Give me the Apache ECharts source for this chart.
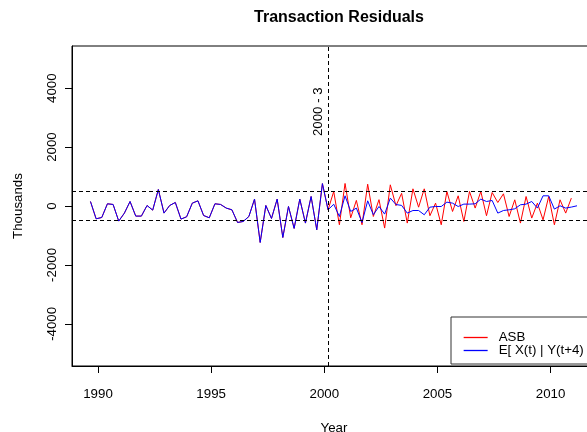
<!DOCTYPE html>
<html><head><meta charset="utf-8">
<script src="https://cdn.jsdelivr.net/npm/echarts@6/dist/echarts.min.js"></script>
<style>html,body{margin:0;padding:0;background:#fff}#c{width:587px;height:432px}</style>
</head><body><div id="c"></div>
<script>
// Quarterly observations starting Sep 1989 (monthly index 1989-9), step 3 months
const startYear = 1989, startMonth = 9;
const seriesNames = ['ASB', 'E[ X(t) | Y(t+4) ]'];
const seriesColors = ['#ff0000', '#0000ff'];
// ASB (actual residuals)
const asb = [153,-434,-390,75,52,-512,-241,153,-343,-343,17,-140,560,-241,17,119,-444,-366,97,176,
  -322,-400,75,52,-71,-129,-559,-525,-356,234,-1237,17,-424,234,-1068,-17,-760,234,-580,322,
  -807,760,-129,492,-637,765,-400,190,-637,740,-356,215,-749,719,10,430,-580,583,-40,583,
  -330,97,-637,492,-186,346,-525,492,-71,492,-330,458,119,414,-356,210,-580,322,-410,97,
  -468,322,-637,210,-241,268];
// Conditional expectation E[X(t) | Y(t+4)]
const cond = [153,-434,-390,75,52,-512,-241,153,-343,-343,17,-140,560,-241,17,119,-444,-366,97,176,
  -322,-400,75,52,-71,-129,-559,-525,-356,234,-1237,17,-424,234,-1068,-17,-760,234,-580,322,
  -807,760,-129,60,-356,346,-186,-71,-559,176,-298,-17,-275,268,50,20,-241,-153,-153,-298,
  -39,-17,-17,131,97,-17,64,64,75,234,153,187,-241,-153,-129,-95,41,64,153,-71,
  346,346,-105,7,-71,-37,7];
const bands = [500, -500];
const breakMonth = {year: 2000, month: 3, label: '2000 - 3', labelValue: 3200};
const xTicks = [1990, 1995, 2000, 2005, 2010];
const yTicks = [-4000, -2000, 0, 2000, 4000];

const t = i => startYear + (startMonth - 1) / 12 + 0.25 * i;
const breakX = breakMonth.year + (breakMonth.month - 1) / 12;
const FONT = "'Liberation Sans', Arial, Helvetica, sans-serif";

const chart = echarts.init(document.getElementById('c'), null, {renderer: 'canvas'});
chart.setOption({
  animation: false,
  backgroundColor: '#fff',
  textStyle: {fontFamily: FONT},
  title: {
    text: 'Transaction Residuals', left: 334, top: 5, textAlign: 'center',
    textStyle: {fontFamily: FONT, fontWeight: 'bold', fontSize: 16, color: '#000'}
  },
  grid: {left: 72, right: -9, top: 46, bottom: 66, show: true, borderColor: '#000', borderWidth: 1,
    outerBoundsMode: 'none', containLabel: false},
  legend: {
    orient: 'vertical', left: 451, top: 317, padding: [14, 80, 7, 12],
    itemWidth: 24, itemHeight: 14, itemGap: 0,
    borderColor: '#333', borderWidth: 1, backgroundColor: '#fff',
    itemStyle: {opacity: 0},
    textStyle: {fontFamily: FONT, fontSize: 13.3, color: '#000', padding: [0, 0, 0, 6]},
    data: seriesNames.map((n, i) => ({name: n,
      itemStyle: {opacity: 0},
      lineStyle: {color: seriesColors[i], width: 1.3, opacity: 1, type: 'solid'}}))
  },
  xAxis: {
    type: 'value', min: 1988.851, max: 2012.006,
    name: 'Year', nameLocation: 'middle', nameGap: 56,
    nameTextStyle: {fontFamily: FONT, fontSize: 13.3, color: '#000'},
    axisLine: {show: true, onZero: false, lineStyle: {color: '#000', width: 1}},
    axisTick: {show: true, length: 7, lineStyle: {color: '#000'}, customValues: xTicks},
    axisLabel: {color: '#000', fontSize: 13.3, fontFamily: FONT, margin: 22, customValues: xTicks, formatter: v => String(v)},
    splitLine: {show: false}
  },
  yAxis: {
    type: 'value', min: -5430, max: 5430,
    name: 'Thousands', nameLocation: 'middle', nameGap: 47, nameRotate: 90,
    nameTextStyle: {fontFamily: FONT, fontSize: 13.3, color: '#000'},
    axisLine: {show: true, onZero: false, lineStyle: {color: '#000', width: 1}},
    axisTick: {show: true, length: 7, lineStyle: {color: '#000'}, customValues: yTicks},
    axisLabel: {color: '#000', fontSize: 13.3, fontFamily: FONT, rotate: 90, margin: 13, customValues: yTicks, formatter: v => String(v)},
    splitLine: {show: false}
  },
  series: [
    {
      name: seriesNames[0], type: 'line', symbol: 'none', color: seriesColors[0],
      itemStyle: {color: seriesColors[0]},
      lineStyle: {width: 1, color: seriesColors[0]},
      data: asb.map((v, i) => [t(i), v]), z: 2
    },
    {
      name: seriesNames[1], type: 'line', symbol: 'none', color: seriesColors[1],
      itemStyle: {color: seriesColors[1]},
      lineStyle: {width: 1, color: seriesColors[1]},
      data: cond.map((v, i) => [t(i), v]), z: 3,
      markLine: {
        silent: true, symbol: ['none', 'none'], label: {show: false},
        lineStyle: {color: '#000', type: [4, 3], width: 1},
        data: bands.map(b => ({yAxis: b})).concat([{xAxis: breakX}])
      },
      markPoint: {
        silent: true, symbol: 'circle', symbolSize: 0,
        label: {show: true, formatter: breakMonth.label, rotate: 90, offset: [0, -10],
          color: '#000', fontSize: 13.3, fontFamily: FONT},
        data: [{coord: [breakX, breakMonth.labelValue]}]
      }
    }
  ]
});
</script></body></html>
